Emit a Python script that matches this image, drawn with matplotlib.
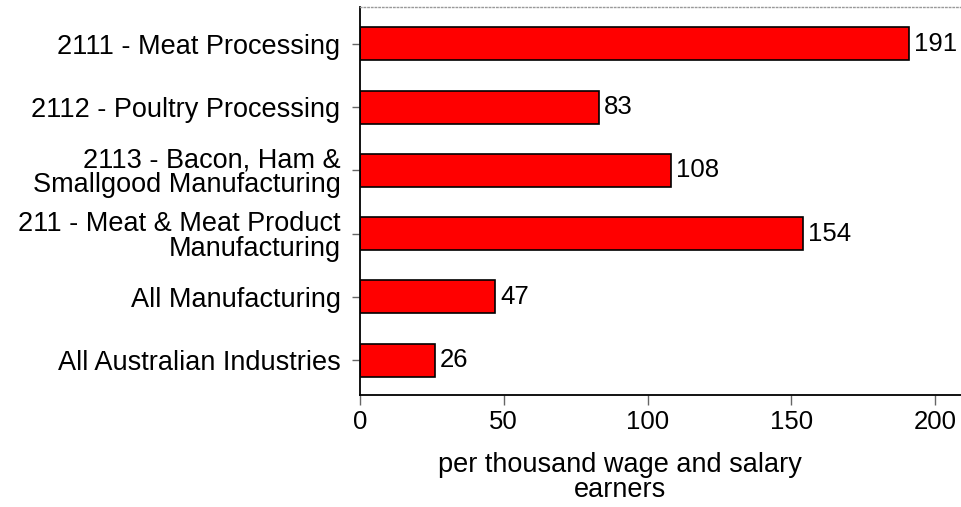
import matplotlib.pyplot as plt

plt.rcParams['font.family'] = ['Liberation Sans', 'DejaVu Sans']

# Rates per thousand wage and salary earners, listed top to bottom
categories = [
    "2111 - Meat Processing",
    "2112 - Poultry Processing",
    "2113 - Bacon, Ham &\nSmallgood Manufacturing",
    "211 - Meat & Meat Product\nManufacturing",
    "All Manufacturing",
    "All Australian Industries",
]
values = [191, 83, 108, 154, 47, 26]
x_ticks = [0, 50, 100, 150, 200]

fig = plt.figure(figsize=(9.61, 5.07), dpi=100)
ax = fig.add_axes([0.3746, 0.221, 0.6254, 0.765])

pos = list(range(len(categories)))
ax.barh(pos, values, height=0.52, color="#ff0000", edgecolor="black", linewidth=1.2)

for y, v in zip(pos, values):
    ax.text(v + 1.8, y, str(v), va="center", ha="left", fontsize=18.5)

ax.set_ylim(len(categories) - 0.45, -0.58)
ax.set_xlim(0, 209)
ax.set_yticks(pos)
ax.set_yticklabels(categories, fontsize=19.5, linespacing=0.95)
ax.set_xticks(x_ticks)
ax.set_xticklabels([str(t) for t in x_ticks], fontsize=18.5)

ax.tick_params(axis="y", length=6, width=1, color="#666666", pad=8)
ax.tick_params(axis="x", length=7, width=1, color="#666666", pad=4)

ax.spines["right"].set_visible(False)
ax.spines["top"].set_color("#999999")
ax.spines["top"].set_linestyle(":")
ax.spines["top"].set_linewidth(1.0)
ax.spines["left"].set_linewidth(1.3)
ax.spines["bottom"].set_linewidth(1.3)

ax.set_xlabel("per thousand wage and salary\nearners", fontsize=19.5, linespacing=0.95)
ax.xaxis.set_label_coords(0.433, -0.148)

fig.savefig("out.png", dpi=100)
